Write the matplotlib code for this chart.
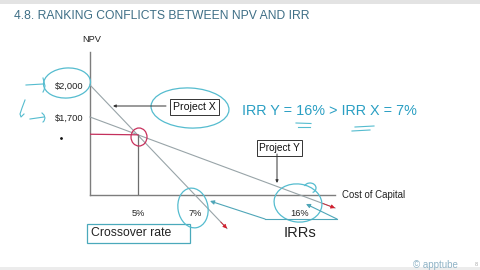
import numpy as np
import matplotlib
matplotlib.use("Agg")
import matplotlib.pyplot as plt
from matplotlib.patches import Ellipse, Rectangle, Arc

plt.rcParams['font.family'] = ['Liberation Sans', 'DejaVu Sans']

# NPV profiles of the two projects
projects = ["Project X", "Project Y"]
npv_at_zero = [2000, 1700]          # NPV at a 0% cost of capital
irr = [7, 16]                       # rate where NPV = 0
crossover_rate = 5
rate_ticks = [5, 7, 16]
rate_tick_labels = ["5%", "7%", "16%"]
npv_ticks = [2000, 1700]
npv_tick_labels = ["$2,000", "$1,700"]

# schematic axes: piecewise-linear (not to scale) positions
rate_knots = [0, 5, 7, 16]
rate_pos = [0, 48, 105, 210]
npv_knots = [0, 1700, 2000]
npv_pos = [0, 78, 110]


def piecewise(v, xp, fp):
    v = np.asarray(v, dtype=float)
    out = np.interp(v, xp, fp)
    s0 = (fp[1] - fp[0]) / (xp[1] - xp[0])
    s1 = (fp[-1] - fp[-2]) / (xp[-1] - xp[-2])
    out = np.where(v < xp[0], fp[0] + (v - xp[0]) * s0, out)
    out = np.where(v > xp[-1], fp[-1] + (v - xp[-1]) * s1, out)
    return out


def rate_fwd(v):
    return piecewise(v, rate_knots, rate_pos)


def rate_inv(p):
    return piecewise(p, rate_pos, rate_knots)


def npv_fwd(v):
    return piecewise(v, npv_knots, npv_pos)


def npv_inv(p):
    return piecewise(p, npv_pos, npv_knots)


W, H = 480, 270
fig = plt.figure(figsize=(4.8, 2.7), dpi=100)
fig.patch.set_facecolor("white")

# slide frame and title
over = fig.add_axes([0, 0, 1, 1], zorder=5)
over.set_xlim(0, W)
over.set_ylim(H, 0)
over.axis("off")
over.patch.set_alpha(0)
over.add_patch(Rectangle((0, 0), W, 4, color="#e3e3e3", lw=0))
over.add_patch(Rectangle((0, 267), W, 3, color="#ececec", lw=0))
over.text(14, 16, "4.8. RANKING CONFLICTS BETWEEN NPV AND IRR", fontsize=8.7,
          color="#3f6f86", va="center", ha="left")

# chart axes
ax = fig.add_axes([90 / W, (H - 195) / H, 245 / W, 143 / H], zorder=2)
ax.set_xscale("function", functions=(rate_fwd, rate_inv))
ax.set_yscale("function", functions=(npv_fwd, npv_inv))
ax.set_xlim(0, float(rate_inv(245)))
ax.set_ylim(0, float(npv_inv(143)))
ax.patch.set_alpha(0)
for s in ("top", "right"):
    ax.spines[s].set_visible(False)
for s in ("left", "bottom"):
    ax.spines[s].set_color("#7d7d7d")
    ax.spines[s].set_linewidth(1.0)
ax.set_xticks(rate_ticks, rate_tick_labels)
ax.set_yticks(npv_ticks, npv_tick_labels)
ax.tick_params(axis="x", length=0, pad=10, labelsize=6.7, colors="#222222")
ax.tick_params(axis="y", length=0, pad=5, labelsize=6.7, colors="#222222")

# NPV profile lines, extended past the IRR to a red arrowhead
extend = [1.305, 1.167]
for npv0, r, k in zip(npv_at_zero, irr, extend):
    end_x = float(rate_inv(k * rate_fwd(r)))
    end_y = float(npv_inv(npv_fwd(npv0) * (1 - k)))
    ax.plot([0, end_x], [npv0, end_y], color="#98a4a8", lw=0.8, clip_on=False, zorder=3)
    pre_x = float(rate_inv((k - 0.06) * rate_fwd(r)))
    pre_y = float(npv_inv(npv_fwd(npv0) * (1 - (k - 0.06))))
    ax.annotate("", xy=(end_x, end_y), xytext=(pre_x, pre_y),
                arrowprops=dict(arrowstyle="-|>", color="#d21f2e", lw=0.6,
                                mutation_scale=6, shrinkA=0, shrinkB=0),
                annotation_clip=False, zorder=4)

# crossover point: height of Project Y's line at the crossover rate
y_slope = npv_fwd(npv_at_zero[1]) / rate_fwd(irr[1])
cross_npv = float(npv_inv(npv_fwd(npv_at_zero[1]) - y_slope * rate_fwd(crossover_rate)))
ax.plot([crossover_rate, crossover_rate], [0, cross_npv], color="#6e6e6e", lw=0.9, zorder=3)
ax.plot([0, crossover_rate], [cross_npv * 1.01, cross_npv], color="#c4305c", lw=0.9, zorder=3)

# axis titles
over.text(92, 40, "NPV", fontsize=6.7, color="#222222", ha="center", va="center")
over.text(342, 195, "Cost of Capital", fontsize=6.9, color="#222222", ha="left", va="center")
over.plot([61], [138], marker="o", ms=1, color="#111111")

# labelled boxes
box = dict(boxstyle="square,pad=0.25", fc="white", ec="#333333", lw=0.7)
over.text(194.5, 107, "Project X", fontsize=7.6, color="#111111", ha="center", va="center", bbox=box)
over.annotate("", xy=(113, 106), xytext=(166, 106),
              arrowprops=dict(arrowstyle="-|>", color="#333333", lw=0.7, mutation_scale=4,
                              shrinkA=0, shrinkB=0))
over.text(279.5, 148, "Project Y", fontsize=7.3, color="#111111", ha="center", va="center", bbox=box)
over.annotate("", xy=(277, 183), xytext=(277, 154),
              arrowprops=dict(arrowstyle="-|>", color="#333333", lw=0.7, mutation_scale=4,
                              shrinkA=0, shrinkB=0))
over.text(91, 233.5, "Crossover rate", fontsize=8.8, color="#222222", ha="left", va="center")
over.add_patch(Rectangle((87, 224), 103, 19, fill=False, ec="#4aa9bb", lw=0.9))
over.text(300, 233, "IRRs", fontsize=10.5, color="#222222", ha="center", va="center")
over.text(242, 111, "IRR Y = 16% > IRR X = 7%", fontsize=10.4, color="#2a9fc3",
          ha="left", va="center")

# hand-drawn annotations
blue = "#55bccf"
red = "#c8305c"
over.add_patch(Ellipse((67, 83), 47, 30, angle=-4, fill=False, ec=blue, lw=0.9))
over.add_patch(Ellipse((190, 108), 78, 40, angle=3, fill=False, ec=blue, lw=0.9))
over.add_patch(Ellipse((193, 208), 30, 40, angle=-10, fill=False, ec=blue, lw=0.9))
over.add_patch(Ellipse((298, 203), 48, 38, angle=8, fill=False, ec=blue, lw=0.9))
over.add_patch(Arc((310, 188), 12, 10, theta1=200, theta2=60, ec=blue, lw=0.9))
over.add_patch(Ellipse((139, 137), 16, 18, fill=False, ec=red, lw=0.9))

over.plot([26, 43], [85, 84], color=blue, lw=0.8)
over.plot([43, 44, 45, 44, 43], [78, 82, 86, 90, 92], color=blue, lw=0.8)
over.plot([25, 22, 20, 21, 24], [100, 108, 114, 117, 114], color=blue, lw=0.8)
over.plot([30, 44], [119, 117], color=blue, lw=0.8)
over.plot([42, 44, 45, 44, 43], [113, 115, 118, 121, 122], color=blue, lw=0.8)

over.plot([296, 311], [123, 123.5], color=blue, lw=0.8)
over.plot([298, 310], [126.5, 126.5], color=blue, lw=0.8)
over.plot([355, 374], [127, 126], color=blue, lw=0.8)
over.plot([352, 370], [131, 130], color=blue, lw=0.8)

over.plot([337, 265], [219, 219], color="#4fa6b8", lw=0.8)
over.annotate("", xy=(210, 201), xytext=(265, 219),
              arrowprops=dict(arrowstyle="-|>", color="#4fa6b8", lw=0.8, mutation_scale=6,
                              shrinkA=0, shrinkB=0))
over.annotate("", xy=(306, 204), xytext=(337, 219),
              arrowprops=dict(arrowstyle="-|>", color="#4fa6b8", lw=0.8, mutation_scale=6,
                              shrinkA=0, shrinkB=0))

# footer
over.text(435, 265, "\u00a9 apptube", fontsize=7, color="#8fb3c6", ha="center", va="center")
over.text(476, 265, "8", fontsize=4, color="#aaaaaa", ha="center", va="center")

fig.savefig("out.png", dpi=100, facecolor="white")
